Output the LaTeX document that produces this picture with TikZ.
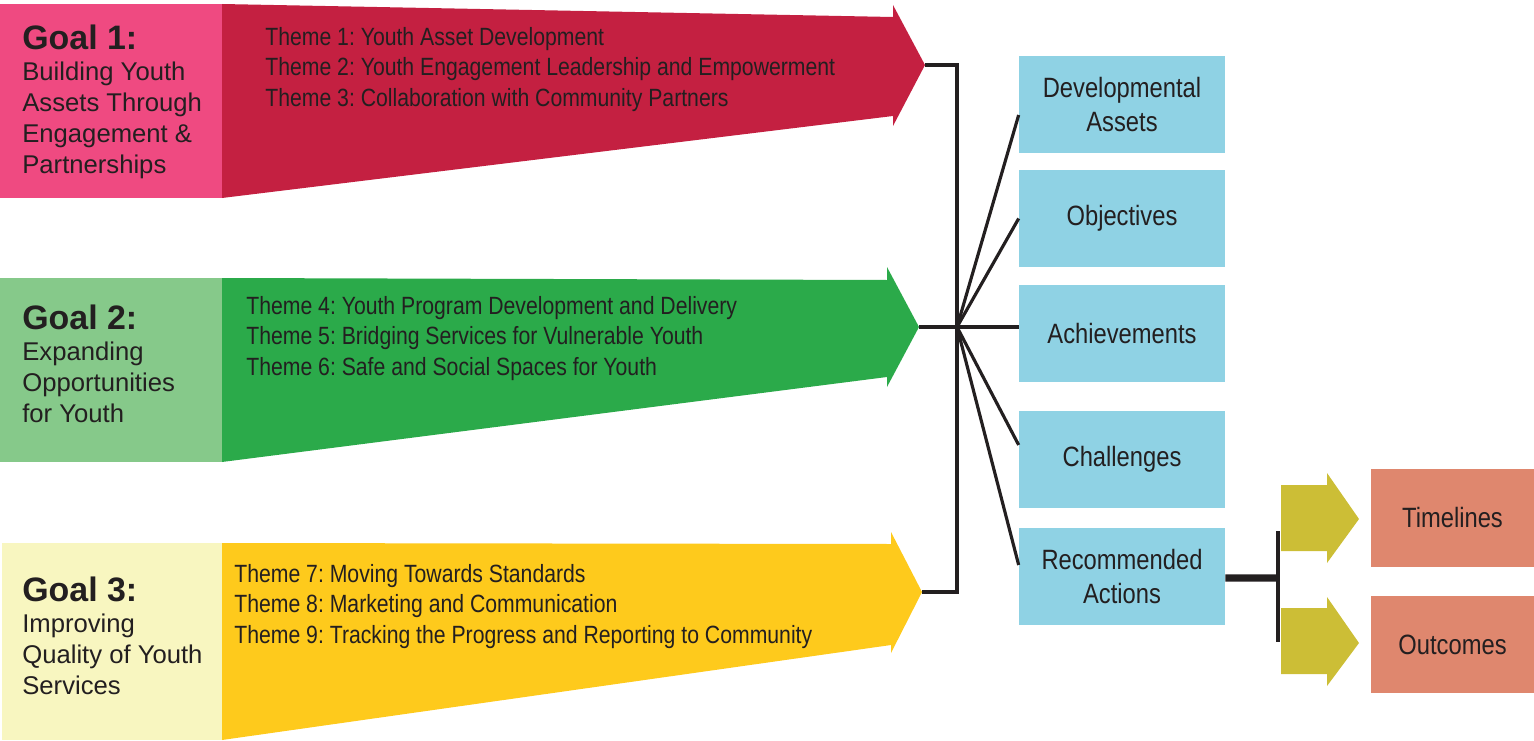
\documentclass[tikz,border=0pt]{standalone}
\usepackage{fontspec}
\setmainfont{Liberation Sans}
\newfontfamily\narrowfont[FakeStretch=0.85]{Liberation Sans}
\frenchspacing
\definecolor{ink}{HTML}{231F20}
\definecolor{goalone}{HTML}{EF4A81}
\definecolor{arrowone}{HTML}{C42041}
\definecolor{goaltwo}{HTML}{86C98A}
\definecolor{arrowtwo}{HTML}{2BAA4A}
\definecolor{goalthree}{HTML}{F8F6C0}
\definecolor{arrowthree}{HTML}{FECA1C}
\definecolor{itemblue}{HTML}{8FD2E4}
\definecolor{olive}{HTML}{CCBE36}
\definecolor{salmon}{HTML}{DF876E}

\begin{document}
\begin{tikzpicture}[x=0.02cm,y=-0.02cm]
	% size of each box
	\def\bw{4.12cm}
	\def\bh{1.94cm}
	\def\sw{3.26cm}
	% node style definition
	\tikzstyle{goalbox} = [rectangle, inner sep=0, minimum width=4.44cm];
	\tikzstyle{goaltext} = [anchor=north west, inner sep=0, align=left, text=ink, font=\fontsize{14.6}{17.6}\selectfont];
	\tikzstyle{themes} = [anchor=north west, inner sep=0, align=left, text=ink, font=\narrowfont\fontsize{14.2}{17.3}\selectfont];
	\tikzstyle{item} = [rectangle, fill=itemblue, minimum width=\bw, minimum height=\bh, align=center, text=ink, font=\narrowfont\fontsize{15.9}{19.3}\selectfont];
	\tikzstyle{result} = [rectangle, fill=salmon, minimum width=\sw, minimum height=1.96cm, text=ink, font=\narrowfont\fontsize{15.9}{19.3}\selectfont];
	\tikzstyle{link} = [draw=ink, line width=1.8pt];
	\def\head#1{{\fontsize{19.3}{17.6}\selectfont\bfseries #1}}
	\useasboundingbox (0,0) rectangle (1534,740);
	% goals
	\node[goalbox, fill=goalone, minimum height=3.88cm] (goal1) at (111,101) {};
	\node[goalbox, fill=goaltwo, minimum height=3.68cm] (goal2) at (111,370) {};
	\node[goalbox, fill=goalthree, minimum width=4.4cm, minimum height=3.94cm] (goal3) at (112,641.5) {};
	\node[goaltext] (goal1txt) at (22,25) {\head{Goal 1:}\\Building Youth\\Assets Through\\Engagement \&\\Partnerships};
	\node[goaltext] (goal2txt) at (22,305) {\head{Goal 2:}\\Expanding\\Opportunities\\for Youth};
	\node[goaltext] (goal3txt) at (22,577) {\head{Goal 3:}\\Improving\\Quality of Youth\\Services};
	% big arrows
	\fill[arrowone] (222,4) -- (893,17) -- (893,5) -- (925,65) coordinate (tip1) -- (893,126) -- (893,116) -- (222,198) -- cycle;
	\fill[arrowtwo] (222,278) -- (887,280) -- (887,267) -- (919,327) coordinate (tip2) -- (887,387) -- (887,377) -- (222,462) -- cycle;
	\fill[arrowthree] (222,543) -- (891,544) -- (891,532) -- (922,592) coordinate (tip3) -- (891,653) -- (891,645) -- (222,740) -- cycle;
	\node[themes] (themes1) at (265,27) {Theme 1: Youth Asset Development\\Theme 2: Youth Engagement Leadership and Empowerment\\Theme 3: Collaboration with Community Partners};
	\node[themes] (themes2) at (246,296) {Theme 4: Youth Program Development and Delivery\\Theme 5: Bridging Services for Vulnerable Youth\\Theme 6: Safe and Social Spaces for Youth};
	\node[themes] (themes3) at (234,564) {Theme 7: Moving Towards Standards\\Theme 8: Marketing and Communication\\Theme 9: Tracking the Progress and Reporting to Community};
	% report sections
	\node[item] (dev) at (1122,104.5) {Developmental\\Assets};
	\node[item] (obj) at (1122,218.5) {\raisebox{0.12cm}{Objectives}};
	\node[item] (ach) at (1122,333.5) {Achievements};
	\node[item, minimum height=1.96cm] (chal) at (1122,459.5) {\raisebox{0.05cm}{Challenges}};
	\node[item] (rec) at (1122,576.5) {Recommended\\Actions};
	\node[result] (time) at (1452.5,518) {Timelines};
	\node[result] (out) at (1452.5,644.5) {Outcomes};
	% connectors
	\coordinate (hub) at (957,327);
	\draw[link] (tip1) -| (hub) |- (tip3);
	\draw[link] (tip2) -- (ach.west|-tip2);
	\draw[link] (hub) -- ([yshift=-0.21cm]dev.west);
	\draw[link] (hub) -- (obj.west);
	\draw[link] (hub) -- ([yshift=0.29cm]chal.west);
	\draw[link] (hub) -- ([yshift=0.23cm]rec.west);
	\coordinate (bar) at (1278,578);
	\coordinate (bartop) at (1278,531);
	\coordinate (barbot) at (1278,642);
	\draw[link, line width=4pt] ([yshift=-0.03cm]rec.east) -- (bar);
	\draw[link] (bartop) -- (barbot);
	% small arrows
	\fill[olive] (1281,485) -- (1327,485) -- (1327,473) -- (1359,519) -- (1327,563) -- (1327,551) -- (1281,551) -- cycle;
	\fill[olive] (1281,608) -- (1327,608) -- (1327,597) -- (1359,643) -- (1327,686) -- (1327,674) -- (1281,674) -- cycle;
\end{tikzpicture}
\end{document}
